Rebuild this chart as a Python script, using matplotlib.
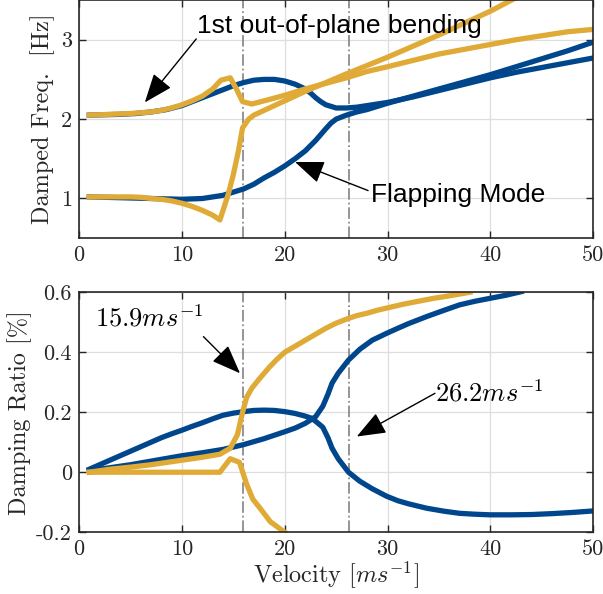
import matplotlib
matplotlib.use('Agg')
from matplotlib import pyplot as plt

plt.rcParams['font.family'] = 'serif'
plt.rcParams['font.serif'] = ['cmr10']
plt.rcParams['mathtext.fontset'] = 'cm'
plt.rcParams['axes.unicode_minus'] = False

blue = '#00468c'
yellow = '#e0aa37'

# damped frequency [Hz]
v_blue_lo = [1, 2.5, 4, 5.5, 7, 8.5, 10, 11, 12, 13, 14, 15, 16, 17, 18, 19, 20, 21, 22, 23, 24, 24.5,
             25, 26, 27, 28, 29, 30, 32.5, 35, 37.5, 40, 42.5, 45, 47.5, 50]
f_blue_lo = [1.02, 1.015, 1.01, 1.005, 1.0, 0.995, 0.99, 0.995, 1.0, 1.02, 1.04, 1.08, 1.12, 1.18, 1.26,
             1.33, 1.41, 1.5, 1.6, 1.73, 1.88, 1.95, 2.0, 2.05, 2.09, 2.12, 2.16, 2.2, 2.29, 2.38, 2.47,
             2.56, 2.66, 2.76, 2.86, 2.97]
v_blue_hi = [1, 2.5, 4, 5.5, 7, 8.5, 10, 11, 12, 13, 14, 15, 16, 17, 18, 19, 20, 21, 22, 22.5, 23, 23.5,
             24, 25, 26, 27, 28, 30, 32.5, 35, 37.5, 40, 42.5, 45, 47.5, 50]
f_blue_hi = [2.05, 2.055, 2.06, 2.07, 2.09, 2.12, 2.17, 2.22, 2.27, 2.32, 2.37, 2.42, 2.46, 2.49, 2.5,
             2.5, 2.48, 2.44, 2.38, 2.33, 2.27, 2.22, 2.18, 2.14, 2.14, 2.15, 2.17, 2.21, 2.28, 2.36, 2.44,
             2.52, 2.59, 2.65, 2.71, 2.77]
v_yel_lo = [1, 3, 5, 6, 7, 8, 9, 10, 11, 12, 13, 13.7, 14.5, 15, 15.5, 15.9, 16.5, 17, 18, 20, 22, 24,
            26, 30, 35, 40, 42.5]
f_yel_lo = [1.02, 1.02, 1.02, 1.015, 1.0, 0.99, 0.97, 0.94, 0.9, 0.85, 0.79, 0.73, 1.05, 1.3, 1.6, 1.89,
            2.0, 2.05, 2.11, 2.23, 2.35, 2.46, 2.57, 2.78, 3.06, 3.36, 3.53]
v_yel_hi = [1, 3, 5, 7, 8, 9, 10, 11, 12, 13, 13.8, 14.7, 15.3, 15.9, 16.8, 18, 20, 22, 24, 26, 28, 30,
            32.5, 35, 37.5, 40, 42.5, 45, 47.5, 50]
f_yel_hi = [2.05, 2.06, 2.07, 2.09, 2.11, 2.14, 2.18, 2.23, 2.29, 2.38, 2.49, 2.52, 2.38, 2.22, 2.19,
            2.23, 2.3, 2.38, 2.45, 2.52, 2.6, 2.66, 2.74, 2.82, 2.88, 2.94, 3.0, 3.05, 3.1, 3.13]

# damping ratio [%]
v_blue_a = [1, 2, 3, 4, 5, 6, 7, 8, 9, 10, 11, 12, 13, 14, 15, 16, 17, 18, 19, 20, 21, 22, 22.6, 23,
            23.7, 24.2, 24.6, 25.2, 26.2, 27.3, 28.5, 29.9, 31, 32, 33.8, 35.5, 37, 38.5, 40, 42, 44, 46,
            48, 50]
d_blue_a = [0.01, 0.025, 0.04, 0.055, 0.07, 0.085, 0.1, 0.115, 0.128, 0.14, 0.153, 0.165, 0.178, 0.19,
            0.197, 0.202, 0.206, 0.207, 0.206, 0.202, 0.196, 0.187, 0.18, 0.17, 0.15, 0.115, 0.08, 0.045,
            0.0, -0.03, -0.055, -0.08, -0.095, -0.105, -0.12, -0.13, -0.137, -0.14, -0.142, -0.142,
            -0.141, -0.138, -0.134, -0.129]
v_blue_b = [1, 3, 5, 7, 10, 12, 14, 16, 18, 20, 21, 22, 23, 23.7, 24.2, 24.6, 25.2, 26.2, 27.3, 28.5,
            29.9, 31, 32, 33.8, 35.5, 37, 38.5, 40, 41.5, 43]
d_blue_b = [0.005, 0.015, 0.025, 0.037, 0.055, 0.065, 0.076, 0.092, 0.112, 0.135, 0.147, 0.163, 0.185,
            0.22, 0.26, 0.297, 0.33, 0.374, 0.41, 0.44, 0.463, 0.48, 0.495, 0.519, 0.54, 0.558, 0.57,
            0.58, 0.59, 0.602]
v_yel_c = [1, 3, 5, 7, 10, 12, 13.7, 14.7, 15.4, 15.9, 16.3, 16.8, 17.5, 18.5, 19.2, 20, 21, 22, 23,
           24, 25, 26.2, 27, 28, 29, 30, 31.5, 33, 34.5, 36, 37, 38]
d_yel_c = [0.0, 0.01, 0.017, 0.025, 0.04, 0.05, 0.06, 0.08, 0.125, 0.2, 0.25, 0.28, 0.31, 0.35, 0.375,
           0.4, 0.42, 0.44, 0.46, 0.48, 0.497, 0.513, 0.522, 0.53, 0.54, 0.548, 0.56, 0.57, 0.58,
           0.588, 0.594, 0.6]
v_yel_d = [1, 5, 10, 13.7, 14.7, 15.6, 16.3, 16.9, 17.6, 18.6, 20]
d_yel_d = [0, 0, 0, 0, 0.045, 0.033, -0.04, -0.09, -0.12, -0.165, -0.2]

v_flutter = [15.9, 26.2]
x_ticks = [0, 10, 20, 30, 40, 50]
f_ticks = [1, 2, 3]
d_ticks = [-0.2, 0, 0.2, 0.4, 0.6]
d_tick_labels = ['-0.2', '0', '0.2', '0.4', '0.6']

fig = plt.figure(figsize=(6.03, 5.94), dpi=100)
ax1 = fig.add_axes([0.131, 0.599, 0.853, 0.401])
ax2 = fig.add_axes([0.131, 0.104, 0.853, 0.404])

lw = 3.8
ax1.plot(v_blue_lo, f_blue_lo, color=blue, lw=lw)
ax1.plot(v_blue_hi, f_blue_hi, color=blue, lw=lw)
ax1.plot(v_yel_lo, f_yel_lo, color=yellow, lw=lw)
ax1.plot(v_yel_hi, f_yel_hi, color=yellow, lw=lw)

ax2.plot(v_blue_a, d_blue_a, color=blue, lw=lw)
ax2.plot(v_blue_b, d_blue_b, color=blue, lw=lw)
ax2.plot(v_yel_c, d_yel_c, color=yellow, lw=lw)
ax2.plot(v_yel_d, d_yel_d, color=yellow, lw=lw)

for ax in (ax1, ax2):
    for v in v_flutter:
        ax.axvline(v, color='0.55', lw=1.3, ls='-.', zorder=1)
    ax.set_xlim(0, 50)
    ax.set_xticks(x_ticks)
    ax.grid(True, color='0.87', lw=0.9)
    ax.set_axisbelow(True)
    ax.tick_params(direction='in', top=True, right=True, length=5, width=1.0,
                   labelsize=16, pad=5, colors='0.15')
    for s in ax.spines.values():
        s.set_color('0.15')
        s.set_linewidth(1.2)

ax1.set_ylim(0.5, 3.5)
ax1.set_yticks(f_ticks)
ax1.set_ylabel('Damped Freq.  [Hz]', fontsize=17.5, color='0.15', labelpad=4)

ax2.set_ylim(-0.2, 0.6)
ax2.set_yticks(d_ticks)
ax2.set_yticklabels(d_tick_labels)
ax2.set_ylabel('Damping Ratio [%]', fontsize=17.5, color='0.15', labelpad=3)
ax2.set_xlabel(r'Velocity $[ms^{-1}]$', fontsize=17.5, color='0.15', labelpad=1)

arrow = dict(arrowstyle='-|>,head_length=1.8,head_width=0.7', color='k', lw=1.0,
             shrinkA=0, shrinkB=0)
sans = ['Liberation Sans', 'DejaVu Sans']

ax1.annotate('', xy=(6.4, 2.21), xytext=(11.4, 3.01), arrowprops=arrow)
ax1.text(11.45, 3.09, '1st out-of-plane bending', family=sans, fontsize=19)
ax1.annotate('', xy=(21.0, 1.46), xytext=(28.1, 1.10), arrowprops=arrow)
ax1.text(28.35, 0.96, 'Flapping Mode', family=sans, fontsize=19)

ax2.annotate('', xy=(15.65, 0.33), xytext=(12.1, 0.452), arrowprops=arrow)
ax2.text(1.55, 0.485, r'$15.9ms^{-1}$', fontsize=19)
ax2.annotate('', xy=(27.0, 0.119), xytext=(34.6, 0.263), arrowprops=arrow)
ax2.text(34.6, 0.235, r'$26.2ms^{-1}$', fontsize=19)

fig.savefig('out.png', dpi=100)
